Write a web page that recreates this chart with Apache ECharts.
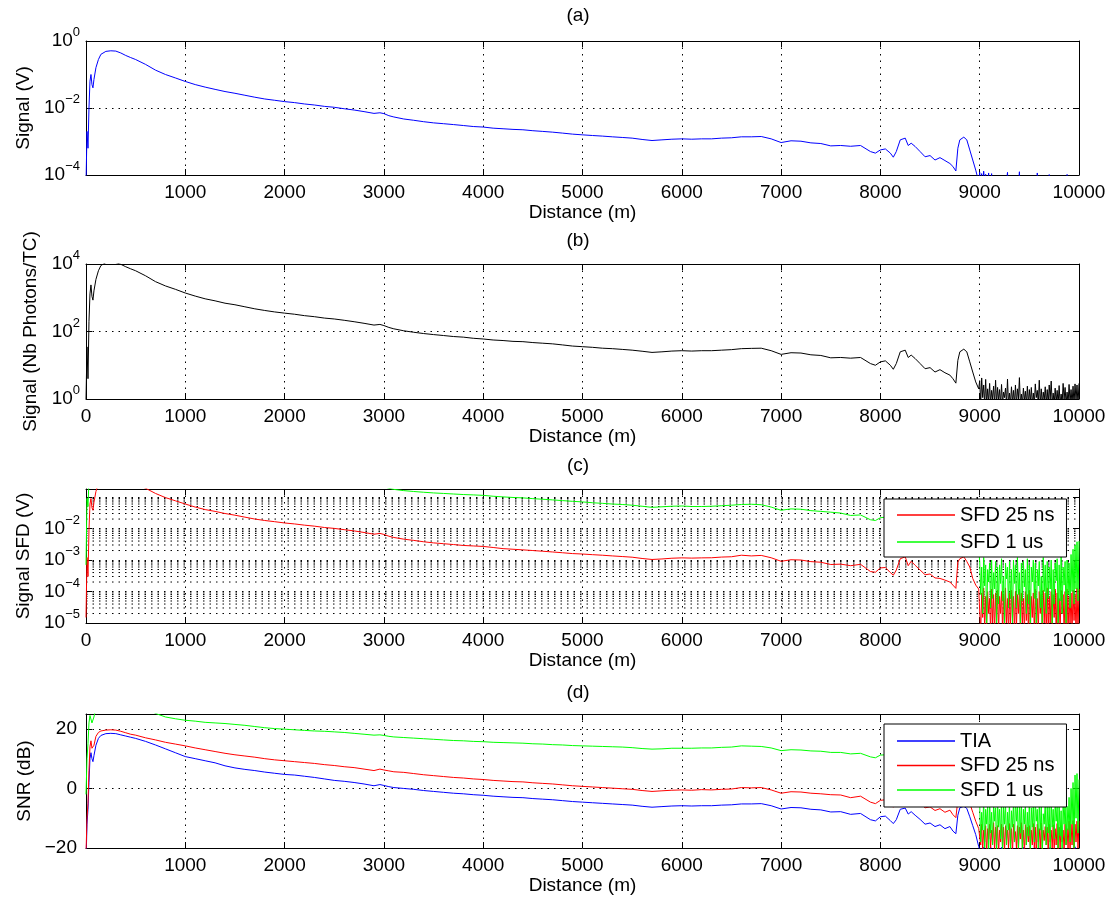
<!DOCTYPE html>
<html><head><meta charset="utf-8">
<script src="https://cdn.jsdelivr.net/npm/echarts@6/dist/echarts.min.js"></script>
<style>html,body{margin:0;padding:0;background:#fff}#chart{width:1115px;height:905px}</style>
</head><body><div id="chart"></div>
<script>
// ---------- DATA ----------
const distMain = [
 0,10,20,30,40,50,60,70,80,100,
 125,150,200,250,300,350,400,450,500,600,
 700,800,900,1000,1100,1200,1300,1400,1500,1600,
 1700,1800,1900,2000,2100,2200,2300,2400,2500,2600,
 2700,2800,2900,2960,3000,3050,3100,3200,3300,3400,
 3500,3600,3700,3800,3900,4000,4100,4200,4300,4400,
 4500,4600,4700,4800,4900,5000,5100,5200,5300,5400,
 5500,5600,5700,5800,5900,6000,6100,6200,6300,6400,
 6500,6600,6700,6800,6900,7000,7100,7200,7300,7400,
 7500,7600,7700,7800,7900,7950,8000,8050,8100,8130,
 8160,8200,8250,8280,8310,8350,8400,8450,8500,8550,
 8600,8650,8700,8730,8760,8780,8800,8840,8870,8900,
 8930,8960,8990];
const distTail = [];
for (let d = 9000; d <= 10000; d += 10) distTail.push(d);

// (a) TIA signal (V)
const tiaSignal = [
 5e-5,2.0e-3,6.3e-4,1.0e-2,6.3e-2,0.10,5.0e-2,4.0e-2,7.1e-2,0.16,
 0.28,0.40,0.49,0.51,0.50,0.44,0.37,0.32,0.28,0.20,
 0.135,0.10,0.079,0.062,0.050,0.042,0.036,0.031,0.0275,0.024,
 0.021,0.0186,0.017,0.0155,0.0145,0.0132,0.0123,0.0112,0.0105,0.0095,
 0.0087,0.0078,0.0069,0.0072,0.0068,0.0059,0.0054,0.0047,0.0043,0.0039,
 0.0036,0.0034,0.0032,0.0030,0.0028,0.0027,0.0025,0.0024,0.0023,0.00224,
 0.0021,0.0020,0.0019,0.00178,0.00166,0.00158,0.00151,0.00145,0.00138,0.00132,
 0.00126,0.00115,0.00107,0.00112,0.00117,0.0012,0.00117,0.0012,0.0012,0.00126,
 0.00129,0.00138,0.00138,0.00141,0.0012,0.00093,0.00105,0.00102,0.00091,0.00087,
 0.00074,0.00076,0.00072,0.00076,0.0005,0.00045,0.00056,0.0006,0.00045,0.00034,
 0.0005,0.00112,0.00126,0.00076,0.00089,0.00071,0.0005,0.00035,0.00038,0.00028,
 0.00033,0.00027,0.00022,0.00018,0.000132,0.00063,0.00112,0.00135,0.00112,0.00056,
 0.00028,0.00014,0.000063];
const tiaSignalTail = [
 1.2e-4,3e-5,1.1e-4,2e-5,1.3e-4,4e-5,1.05e-4,2e-5,2e-5,1.15e-4,
 2e-5,2e-5,1.1e-4,2e-5,2e-5,2e-5,2e-5,2e-5,2e-5,2e-5,
 2e-5,2e-5,2e-5,2e-5,2e-5,2e-5,2e-5,2e-5,1.2e-4,2e-5,
 2e-5,2e-5,2e-5,2e-5,2e-5,2e-5,2e-5,2e-5,2e-5,2e-5,
 1.25e-4,2e-5,2e-5,2e-5,2e-5,2e-5,2e-5,2e-5,2e-5,2e-5,
 2e-5,2e-5,2e-5,2e-5,2e-5,2e-5,2e-5,2e-5,1.15e-4,1.05e-4,
 2e-5,2e-5,2e-5,2e-5,2e-5,2e-5,2e-5,2e-5,2e-5,2e-5,
 1.03e-4,2e-5,2e-5,2e-5,2e-5,2e-5,2e-5,2e-5,2e-5,2e-5,
 2e-5,2e-5,2e-5,2e-5,2e-5,2e-5,2e-5,2e-5,1.04e-4,2e-5,
 2e-5,2e-5,2e-5,2e-5,2e-5,2e-5,2e-5,2e-5,2e-5,2e-5,
 2e-5];

// (b) photons per TC
const photons = [
 1.0,35,4,200,1300,2400,1100,850,1600,3500,
 6300,9000,11000,11500,11000,9800,8300,7200,6300,4470,
 3000,2240,1780,1380,1120,930,810,690,620,540,
 470,420,380,350,325,295,275,250,235,215,
 195,175,155,162,150,132,120,105,95,87,
 81,76,71,68,63,60,56,54,51,50,
 47,45,43,40,37,35.5,34,32,31,29.5,
 28,26,24,25,26.3,27,26.3,27,27,28,
 29,31,31.6,32,27,21,23.5,23,20.4,19.5,
 16.6,17,16.2,17,11.2,10,12.6,13.5,10,7.6,
 11.2,25,28,17,20,15.8,11.2,7.9,8.5,6.3,
 7.4,6.0,5.1,4.0,2.95,14,25,30,25,12.6,
 6.3,3.2,2.0];
const photonsTail = [
 3.5,0.7,4.2,1.1,2.6,0.7,3.8,0.7,2.0,0.8,
 2.9,0.7,1.8,1.0,2.4,0.7,3.6,0.7,2.2,0.9,
 1.9,0.7,2.7,0.7,1.6,1.1,2.1,0.7,3.9,0.7,
 1.5,0.7,2.3,0.8,1.8,0.7,2.6,0.7,2.0,1.0,
 4.3,0.7,1.4,0.7,2.1,0.9,1.7,0.7,2.4,0.7,
 1.9,0.8,2.2,0.7,1.5,0.7,2.8,1.1,1.8,0.7,
 3.6,0.7,2.0,0.7,1.6,0.9,2.3,0.7,1.9,0.7,
 2.6,1.0,3.4,0.7,1.5,0.7,2.1,0.8,1.8,0.7,
 2.5,0.7,1.4,0.7,2.9,1.0,2.2,0.7,1.6,0.7,
 2.7,0.8,1.9,0.7,2.4,0.7,2.8,0.9,2.6,0.7,
 2.9];

// (c) SFD 25 ns signal (V)
const sfd25Signal = [
 1.5e-5,1.2e-3,3e-4,9e-3,6e-2,9e-2,4.6e-2,3.8e-2,6.8e-2,0.15,
 0.27,0.38,0.47,0.49,0.48,0.42,0.35,0.30,0.26,0.19,
 0.13,0.096,0.076,0.060,0.048,0.040,0.035,0.030,0.0265,0.023,
 0.020,0.018,0.0165,0.015,0.014,0.0128,0.0119,0.0108,0.0101,0.0092,
 0.0084,0.0075,0.0066,0.0070,0.0065,0.0057,0.0052,0.0046,0.0042,0.0038,
 0.0035,0.0033,0.0031,0.0029,0.0028,0.0027,0.0025,0.0023,0.0022,0.0021,
 0.0020,0.0019,0.0018,0.0017,0.0016,0.00155,0.00148,0.00142,0.00135,0.00129,
 0.00123,0.00112,0.00104,0.00108,0.00114,0.00117,0.00115,0.00117,0.00118,0.00124,
 0.00127,0.00142,0.00135,0.00140,0.00118,0.00091,0.00102,0.00100,0.00089,0.00085,
 0.00072,0.00074,0.00066,0.00073,0.00043,0.00041,0.00056,0.00058,0.00040,0.00033,
 0.00048,0.00110,0.00126,0.00066,0.00091,0.00068,0.00048,0.00034,0.00036,0.00027,
 0.00026,0.00023,0.00020,0.00016,0.000126,0.00087,0.00110,0.00126,0.00090,0.00060,
 0.00026,0.00016,0.00012];
const sfd25SignalTail = [
 11e-5,0.5e-5,9e-5,1.5e-5,13e-5,0.6e-5,7e-5,0.8e-5,10e-5,2e-5,
 6e-5,0.5e-5,12e-5,1e-5,8e-5,0.5e-5,9e-5,1.2e-5,11e-5,0.5e-5,
 7e-5,2e-5,10e-5,0.6e-5,8e-5,0.5e-5,13e-5,1e-5,6e-5,0.5e-5,
 9e-5,0.8e-5,11e-5,1.5e-5,7e-5,0.5e-5,10e-5,0.7e-5,8e-5,2e-5,
 12e-5,0.5e-5,9e-5,1e-5,6e-5,0.5e-5,10e-5,1.2e-5,8e-5,0.6e-5,
 11e-5,0.5e-5,7e-5,1.5e-5,9e-5,0.5e-5,12e-5,0.8e-5,6e-5,0.5e-5,
 10e-5,2e-5,8e-5,0.5e-5,11e-5,1e-5,9e-5,0.5e-5,13e-5,0.6e-5,
 7e-5,1e-5,10e-5,0.5e-5,8e-5,1.5e-5,12e-5,0.5e-5,9e-5,0.8e-5,
 6e-5,0.5e-5,11e-5,2e-5,8e-5,0.5e-5,10e-5,0.7e-5,12e-5,0.5e-5,
 7e-5,1e-5,9e-5,0.5e-5,11e-5,1.2e-5,8e-5,0.5e-5,13e-5,0.6e-5,
 12e-5];

// (c) SFD 1 us signal (V)
const sfd1Signal = [
 7e-4,0.09,0.05,0.35,2,3,1.7,1.4,2.4,5,
 9,12,15,16,15,13,11,9.5,8.3,6,
 4.1,3.1,2.5,1.95,1.6,1.33,1.15,0.98,0.87,0.76,
 0.67,0.6,0.55,0.5,0.46,0.42,0.39,0.355,0.33,0.3,
 0.275,0.25,0.225,0.23,0.215,0.19,0.175,0.16,0.15,0.142,
 0.135,0.13,0.125,0.12,0.117,0.113,0.106,0.101,0.097,0.094,
 0.089,0.085,0.081,0.077,0.073,0.070,0.066,0.063,0.060,0.058,
 0.055,0.051,0.047,0.049,0.051,0.052,0.050,0.050,0.051,0.053,
 0.055,0.058,0.059,0.057,0.048,0.038,0.042,0.041,0.037,0.035,
 0.033,0.031,0.026,0.027,0.019,0.018,0.022,0.023,0.018,0.014,
 0.019,0.042,0.047,0.029,0.034,0.027,0.019,0.013,0.014,0.011,
 0.012,0.009,0.011,0.007,0.005,0.024,0.042,0.05,0.042,0.021,
 0.011,0.0055,0.0025];
const sfd1SignalTail = [
 9e-4,0.8e-4,6e-4,0.2e-4,12e-4,1.5e-4,7e-4,0.1e-4,5e-4,2e-4,
 8e-4,0.3e-4,10e-4,0.6e-4,4e-4,1.2e-4,9e-4,0.1e-4,6e-4,0.4e-4,
 7e-4,1.8e-4,11e-4,0.5e-4,3e-4,0.1e-4,8e-4,2.5e-4,6e-4,0.3e-4,
 9e-4,0.6e-4,5e-4,0.1e-4,10e-4,1.8e-4,7e-4,0.3e-4,12e-4,0.8e-4,
 4e-4,0.1e-4,8e-4,0.5e-4,9e-4,1.4e-4,5e-4,0.2e-4,11e-4,0.4e-4,
 7e-4,0.1e-4,6e-4,2e-4,10e-4,0.6e-4,8e-4,0.1e-4,5e-4,1.5e-4,
 9e-4,0.3e-4,3e-4,0.1e-4,12e-4,1e-4,7e-4,0.2e-4,9e-4,0.6e-4,
 6e-4,1.2e-4,10e-4,0.1e-4,5e-4,0.4e-4,8e-4,2.2e-4,11e-4,0.1e-4,
 7e-4,0.5e-4,13e-4,0.2e-4,6e-4,1.6e-4,9e-4,0.1e-4,10e-4,0.8e-4,
 8e-4,0.3e-4,15e-4,1e-4,22e-4,0.4e-4,30e-4,1.2e-4,38e-4,0.5e-4,
 40e-4];

// (d) SNR (dB)
const snrTIA = [
 -25,-12,-7,2,10,12,10,9,11,14.5,
 16.8,17.8,18.4,18.5,18.4,18.0,17.6,17.2,16.8,15.8,
 14.6,13.3,12.0,10.7,10.0,9.3,8.6,7.6,6.9,6.4,
 6.0,5.5,5.1,4.7,4.5,4.1,3.7,3.2,2.7,2.4,
 2.0,1.5,0.9,1.3,1.0,0.6,0.3,0.0,-0.3,-0.7,
 -1.0,-1.3,-1.6,-1.8,-2.1,-2.3,-2.6,-2.8,-3.0,-3.1,
 -3.4,-3.6,-3.8,-4.1,-4.4,-4.6,-4.8,-5.0,-5.2,-5.4,
 -5.6,-6.0,-6.3,-6.1,-5.9,-5.8,-5.9,-5.8,-5.8,-5.6,
 -5.5,-5.2,-5.2,-5.1,-5.8,-6.9,-6.4,-6.5,-7.0,-7.2,
 -7.9,-7.8,-8.7,-8.4,-10.5,-10.9,-9.5,-9.3,-10.8,-11.8,
 -10.5,-7.0,-6.6,-8.6,-7.8,-9.0,-10.4,-12.0,-11.6,-12.8,
 -12.2,-13.5,-12.8,-14.3,-15.2,-9.0,-6.5,-6.0,-6.7,-9.5,
 -12.5,-15.5,-19.5];
const snrTIATail = [
 -19.5,-22,-20.5,-24,-19.8,-23,-21,-25,-20.2,-22,
 -23,-19.6,-24,-21,-25,-22,-20.5,-24,-23,-21,
 -25,-22,-19.8,-24,-21,-23,-26,-20.6,-22,-24,
 -21,-25,-22,-19.7,-23,-24,-21,-25,-22,-20.8,
 -24,-22,-25,-21,-19.8,-23,-24,-22,-26,-21,
 -23,-20.5,-24,-22,-25,-21,-23,-19.7,-24,-22,
 -25,-21,-23,-24,-20.6,-22,-25,-21,-23,-24,
 -22,-19.8,-25,-23,-21,-24,-22,-26,-20.4,-23,
 -24,-21,-23,-25,-19.9,-22,-24,-21,-23,-25,
 -22,-20.5,-24,-23,-21,-25,-19.6,-22,-24,-21,
 -23];
const snr25 = [
 -22,-10,-5,6,14,16,13.5,13,14.5,17.5,
 18.8,19.3,19.6,19.7,19.6,19.2,18.7,18.2,17.9,17.0,
 16.3,15.5,14.9,14.3,13.6,13.0,12.4,11.8,11.3,10.9,
 10.5,10.0,9.6,9.3,9.0,8.7,8.4,8.0,7.7,7.3,
 7.0,6.5,6.0,6.5,6.2,5.9,5.6,5.4,5.0,4.6,
 4.3,4.0,3.7,3.5,3.2,3.0,2.7,2.5,2.3,2.2,
 1.9,1.7,1.5,1.2,0.9,0.7,0.5,0.3,0.1,-0.1,
 -0.3,-0.7,-1.0,-0.8,-0.6,-0.5,-0.6,-0.4,-0.5,-0.3,
 -0.2,0.3,0.2,0.3,-0.5,-1.6,-1.1,-1.2,-1.6,-1.8,
 -2.1,-2.2,-3.1,-2.6,-4.6,-5.1,-4.0,-3.8,-5.2,-6.3,
 -5.0,-1.8,-1.4,-3.4,-2.7,-3.8,-5.1,-6.5,-6.2,-7.4,
 -6.8,-8.0,-7.3,-8.8,-9.8,-4.0,-1.8,-1.2,-1.9,-5.0,
 -8.0,-11.0,-13.5];
const snr25Tail = [
 -13,-19,-12,-21,-14,-18,-12.5,-22,-13.5,-17,
 -12,-20,-14,-18.5,-11.5,-21,-13,-19,-12.5,-22,
 -14,-18,-12,-20,-13,-21,-12.5,-17.5,-14,-20,
 -11.8,-19,-13.5,-22,-12,-18,-14.5,-20,-12.5,-21,
 -13,-17,-11.5,-20,-14,-22,-12.2,-19,-13,-18,
 -12.5,-21,-14,-19,-11.8,-20,-13,-22,-12,-18,
 -13.5,-20,-11.6,-21,-14,-17.5,-12.8,-19,-13,-22,
 -12,-18,-14,-20,-12.2,-21,-13.5,-19,-11.8,-22,
 -13,-20,-12.5,-18,-14,-21,-12,-19,-13.5,-20,
 -11,-21,-12,-19,-10.8,-22,-12,-18,-11,-20,
 -11];
const snr1 = [
 -2,10,15,22,24.5,24,22,21.8,24,27,
 29,30,31,31.5,31,30,29,28.5,28,27,
 25.2,24.0,23.4,22.9,22.6,22.2,22.0,21.8,21.5,21.2,
 20.8,20.4,20.1,19.9,19.7,19.5,19.3,19.2,19.0,18.8,
 18.5,18.2,17.9,18.0,17.8,17.5,17.3,17.1,16.9,16.7,
 16.5,16.3,16.1,16.0,15.8,15.7,15.5,15.4,15.3,15.2,
 15.0,14.9,14.7,14.6,14.4,14.3,14.2,14.1,14.0,13.9,
 13.7,13.4,13.2,13.3,13.5,13.5,13.5,13.6,13.6,13.8,
 13.9,14.3,14.2,14.1,13.6,12.7,13.0,12.9,12.6,12.5,
 12.1,12.1,11.6,11.8,10.6,10.3,11.2,11.3,10.5,9.9,
 10.6,12.3,12.6,11.4,11.8,11.3,10.4,9.6,9.8,9.1,
 9.5,8.8,9.2,8.2,7.6,10.9,12.3,12.6,12.2,10.6,
 8.8,6.5,2.0];
const snr1Tail = [
 -5,-18,-8,-14,-4,-20,-7,-12,-6,-22,
 -3.5,-15,-8,-19,-5,-11,-6.5,-21,-4,-13,
 -7,-17,-3.8,-22,-6,-12,-5,-19,-8,-14,
 -4.5,-21,-7.5,-13,-5,-18,-3.6,-11,-6,-20,
 -5.5,-15,-4.2,-22,-7,-12,-5,-19,-8,-16,
 -4,-21,-6.5,-13,-5,-18,-3.7,-11,-7,-20,
 -4.8,-14,-6,-22,-8.5,-12,-4.4,-19,-6,-15,
 -5.2,-21,-3.9,-13,-7,-17,-5,-11,-6,-20,
 -4,-16,-7.5,-22,-5,-12,-3.5,-19,-6,-14,
 -3,-18,0,-12,2,-20,4.5,-10,5,-15,
 3];

// ---------- CHART ----------
const FONT = 'Liberation Sans, Arial, Helvetica, sans-serif';
const BLACK = '#000';
const dotted = {type: [1.5, 5], color: '#000', width: 1};
const grids = [
  {left: 86, top: 41, width: 993, height: 134},
  {left: 86, top: 264, width: 993, height: 135},
  {left: 86, top: 489, width: 993, height: 134},
  {left: 86, top: 714, width: 993, height: 134}
];
const txt = {fontSize: 19, fontFamily: FONT, color: BLACK};
const rich = {
  b: {fontSize: 19, fontFamily: FONT, color: BLACK, lineHeight: 30, verticalAlign: 'middle'},
  s: {fontSize: 13, fontFamily: FONT, color: BLACK, lineHeight: 13, verticalAlign: 'top'}
};
function expLabel(allowed) {
  return function (v) {
    const l = Math.log10(v);
    const e = Math.round(l);
    if (Math.abs(l - e) > 1e-6 || allowed.indexOf(e) < 0) return '';
    return '{b|10}{s|' + (e < 0 ? '\u2212' : '') + Math.abs(e) + '}';
  };
}
function xAxesFor(g, showZero) {
  return [
    {type: 'value', gridIndex: g, min: 0, max: 10000, interval: 1000, position: 'bottom',
      axisLine: {show: true, onZero: false, lineStyle: {color: BLACK, width: 1}},
      axisTick: {show: true, inside: true, length: 6, lineStyle: {color: BLACK}},
      axisLabel: Object.assign({margin: 8, formatter: v => (v === 0 && !showZero) ? '' : String(v)}, txt),
      splitLine: {show: true, lineStyle: dotted},
      name: 'Distance (m)', nameLocation: 'middle', nameGap: 28, nameTextStyle: txt},
    {type: 'value', gridIndex: g, min: 0, max: 10000, interval: 1000, position: 'top',
      axisLine: {show: true, onZero: false, lineStyle: {color: BLACK, width: 1}},
      axisTick: {show: true, inside: true, length: 6, lineStyle: {color: BLACK}},
      axisLabel: {show: false}, splitLine: {show: false}}
  ];
}
function yPair(g, base, name, nameGap, labelOpt) {
  const left = Object.assign({gridIndex: g, position: 'left',
    axisLine: {show: true, onZero: false, lineStyle: {color: BLACK, width: 1}},
    axisTick: {show: true, inside: true, length: 6, lineStyle: {color: BLACK}},
    axisLabel: labelOpt,
    splitLine: {show: true, lineStyle: dotted},
    name: name, nameLocation: 'middle', nameGap: nameGap, nameTextStyle: txt}, base);
  const right = Object.assign({gridIndex: g, position: 'right',
    axisLine: {show: true, onZero: false, lineStyle: {color: BLACK, width: 1}},
    axisTick: {show: true, inside: true, length: 6, lineStyle: {color: BLACK}},
    axisLabel: {show: false}, splitLine: {show: false}}, base);
  return [left, right];
}
const xAxis = [].concat(xAxesFor(0, false), xAxesFor(1, true), xAxesFor(2, true), xAxesFor(3, false));
const yAxis = [].concat(
  yPair(0, {type: 'log', logBase: 10, min: 1e-4, max: 1, interval: 2}, 'Signal (V)', 52,
    {margin: 6, formatter: expLabel([-4, -2, 0]), rich: rich}),
  yPair(1, {type: 'log', logBase: 10, min: 1, max: 1e4, interval: 2}, 'Signal (Nb Photons/TC)', 44,
    {margin: 6, formatter: expLabel([0, 2, 4]), rich: rich}),
  yPair(2, {type: 'log', logBase: 10, min: 1e-5, max: 0.18, interval: 1}, 'Signal SFD (V)', 52,
    {margin: 6, formatter: expLabel([-5, -4, -3, -2]), rich: rich}),
  yPair(3, {type: 'value', min: -20, max: 25, interval: 20}, 'SNR (dB)', 47,
    Object.assign({margin: 9, formatter: v => v === 25 ? '' : (v < 0 ? '\u2212' + Math.abs(v) : String(v))}, txt))
);

function line(name, xi, yi, color, main, tail, z) {
  const data = distMain.map((d, i) => [d, main[i]]).concat(distTail.map((d, i) => [d, tail[i]]));
  return {type: 'line', name: name, xAxisIndex: xi, yAxisIndex: yi, data: data,
    showSymbol: false, symbol: 'none', color: color, lineStyle: {color: color, width: 1},
    animation: false, clip: true, silent: true, z: z || 3};
}
// minor log grid of panel (c): 2..9 x 10^k
const minorLevels = [];
for (let k = -5; k <= -2; k++) for (let m = 2; m <= 9; m++) minorLevels.push(+(m * Math.pow(10, k)).toPrecision(3));
const minorGrid = minorLevels.map(v => ({type: 'line', xAxisIndex: 4, yAxisIndex: 4,
  data: [[0, v], [10000, v]], showSymbol: false, symbol: 'none', silent: true, z: 1,
  animation: false, lineStyle: {type: [1.5, 5], color: '#000', width: 1}}));

const series = [
  line('TIA signal', 0, 0, '#0000ff', tiaSignal, tiaSignalTail),
  line('Photons', 2, 2, '#000000', photons, photonsTail)
].concat(minorGrid, [
  line('SFD 25 ns', 4, 4, '#ff0000', sfd25Signal, sfd25SignalTail),
  line('SFD 1 us', 4, 4, '#00ff00', sfd1Signal, sfd1SignalTail),
  line('TIA', 6, 6, '#0000ff', snrTIA, snrTIATail),
  line('SFD 25 ns', 6, 6, '#ff0000', snr25, snr25Tail),
  line('SFD 1 us', 6, 6, '#00ff00', snr1, snr1Tail)
]);

const legendBase = {orient: 'vertical', left: 884, icon: 'rect', itemWidth: 58, itemHeight: 1.5,
  backgroundColor: '#fff', borderColor: BLACK, borderWidth: 1, borderRadius: 0, selectedMode: false,
  textStyle: {fontSize: 20, fontFamily: FONT, color: BLACK}};
const legend = [
  Object.assign({data: ['SFD 25 ns', 'SFD 1 us'], top: 499, itemGap: 7, padding: [6, 12, 5, 13]}, legendBase),
  Object.assign({data: ['TIA', 'SFD 25 ns', 'SFD 1 us'], top: 724, itemGap: 4.5, padding: [7, 12, 7, 13]}, legendBase)
];

const titles = [['(a)', 16], ['(b)', 241], ['(c)', 466], ['(d)', 693]];
const graphic = titles.map(t => ({type: 'text', x: 578, y: t[1],
  style: {text: t[0], fontSize: 19, fontFamily: FONT, fill: BLACK, align: 'center', verticalAlign: 'middle'}}));

const chart = echarts.init(document.getElementById('chart'), null, {renderer: 'canvas'});
chart.setOption({
  animation: false,
  backgroundColor: '#fff',
  textStyle: {fontFamily: FONT},
  grid: grids,
  xAxis: xAxis,
  yAxis: yAxis,
  legend: legend,
  graphic: graphic,
  series: series
});
</script>
</body></html>
